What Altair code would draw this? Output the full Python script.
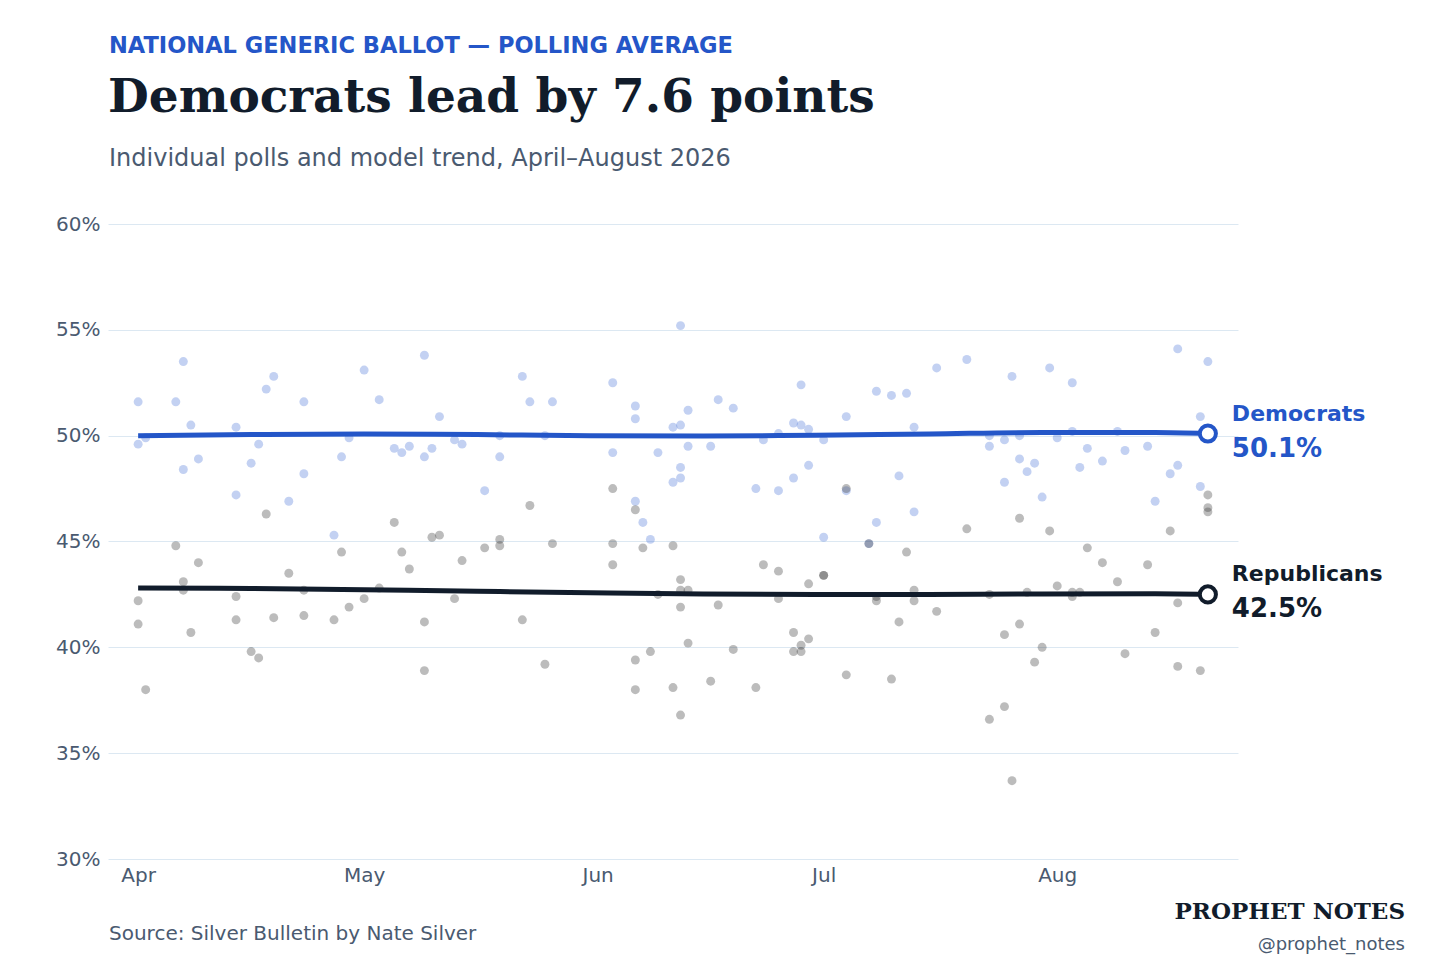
import altair as alt
import pandas as pd

dem_day = [0,0,1,5,6,6,7,8,13,13,15,16,17,18,20,22,22,26,27,28,30,32,34,35,36,38,38,39,40,42,43,46,48,48,51,52,54,55,63,63,66,66,66,67,68,69,71,71,72,72,72,72,73,73,76,77,79,82,83,85,85,87,87,88,88,89,89,91,91,94,94,97,98,98,100,101,102,103,103,106,110,113,113,115,115,116,117,117,118,119,120,121,122,124,124,125,126,128,130,131,134,135,137,138,138,141,141,142]
dem_val = [51.6,49.6,49.9,51.6,53.5,48.4,50.5,48.9,50.4,47.2,48.7,49.6,52.2,52.8,46.9,51.6,48.2,45.3,49.0,49.9,53.1,51.7,49.4,49.2,49.5,53.8,49.0,49.4,50.9,49.8,49.6,47.4,50.0,49.0,52.8,51.6,50.0,51.6,52.5,49.2,51.4,50.8,46.9,45.9,45.1,49.2,50.4,47.8,55.2,50.5,48.5,48.0,51.2,49.5,49.5,51.7,51.3,47.5,49.8,50.1,47.4,50.6,48.0,52.4,50.5,50.3,48.6,49.8,45.2,50.9,47.4,44.9,52.1,45.9,51.9,48.1,52.0,50.4,46.4,53.2,53.6,50.0,49.5,49.8,47.8,52.8,50.0,48.9,48.3,48.7,47.1,53.2,49.9,52.5,50.2,48.5,49.4,48.8,50.2,49.3,49.5,46.9,48.2,54.1,48.6,50.9,47.6,53.5]
rep_day = [0,0,1,5,6,6,7,8,13,13,15,16,17,18,20,22,22,26,27,28,30,32,34,35,36,38,38,39,40,42,43,46,48,48,51,52,54,55,63,63,63,66,66,66,67,68,69,71,71,72,72,72,72,73,73,76,77,79,82,83,85,85,87,87,88,88,89,89,91,91,94,94,97,98,98,100,101,102,103,103,106,110,113,113,115,115,116,117,117,118,119,120,121,122,124,124,125,126,128,130,131,134,135,137,138,138,141,142,142,142]
rep_val = [42.2,41.1,38.0,44.8,43.1,42.7,40.7,44.0,42.4,41.3,39.8,39.5,46.3,41.4,43.5,42.7,41.5,41.3,44.5,41.9,42.3,42.8,45.9,44.5,43.7,41.2,38.9,45.2,45.3,42.3,44.1,44.7,45.1,44.8,41.3,46.7,39.2,44.9,47.5,44.9,43.9,46.5,39.4,38.0,44.7,39.8,42.5,44.8,38.1,43.2,42.7,41.9,36.8,42.7,40.2,38.4,42.0,39.9,38.1,43.9,43.6,42.3,40.7,39.8,40.1,39.8,43.0,40.4,43.4,43.4,47.5,38.7,44.9,42.4,42.2,38.5,41.2,44.5,42.7,42.2,41.7,45.6,42.5,36.6,40.6,37.2,33.7,46.1,41.1,42.6,39.3,40.0,45.5,42.9,42.6,42.4,42.6,44.7,44.0,43.1,39.7,43.9,40.7,45.5,42.1,39.1,38.9,47.2,46.6,46.4]
trend_day = [0,15,30,45,60,75,90,105,120,135,142]
dem_trend = [50.0,50.05,50.08,50.05,50.0,49.98,50.02,50.08,50.15,50.15,50.1]
rep_trend = [42.8,42.78,42.72,42.65,42.58,42.52,42.5,42.5,42.52,42.53,42.5]

start = pd.Timestamp("2026-04-01")
def dates(days): return [start + pd.Timedelta(days=d) for d in days]

BLUE = "#2456c8"; DARK = "#111c2b"

x = alt.X("date:T", scale=alt.Scale(domain=["2026-03-28","2026-08-25"]),
          axis=alt.Axis(format="%b", tickCount="month", title=None, grid=False, domain=False, ticks=False,
                        labelFontSize=20, labelColor="#4a5a70", labelPadding=6, labelFont="DejaVu Sans"))
y = alt.Y("v:Q", scale=alt.Scale(domain=[0.30, 0.60]),
          axis=alt.Axis(format=".0%", values=[0.30,0.35,0.40,0.45,0.50,0.55,0.60], title=None, domain=False, ticks=False,
                        gridColor="#dce8f2", labelFontSize=20, labelColor="#4a5a70", labelPadding=8, labelFont="DejaVu Sans"))

layers = []
for name, days, vals, tdays, tvals, lc, pc in [
        ("Democrats", dem_day, dem_val, trend_day, dem_trend, BLUE, "#4a72d8"),
        ("Republicans", rep_day, rep_val, trend_day, rep_trend, DARK, "#333333")]:
    p = pd.DataFrame({"date": dates(days), "v": [v/100 for v in vals]})
    t = pd.DataFrame({"date": dates(tdays), "v": [v/100 for v in tvals]})
    e = t.tail(1).copy(); e["name"] = name; e["lbl"] = e["v"].map(lambda v: f"{v*100:.1f}%")
    layers.append(alt.Chart(p).mark_circle(size=80, opacity=0.33, color=pc).encode(x=x, y=y))
    layers.append(alt.Chart(t).mark_line(strokeWidth=5, interpolate="monotone", color=lc).encode(x=x, y=y))
    layers.append(alt.Chart(e).mark_point(size=260, filled=True, fill="white", stroke=lc, strokeWidth=4, opacity=1).encode(x=x, y=y))
    layers.append(alt.Chart(e).mark_text(align="left", dx=24, dy=-20, fontSize=22, fontWeight="bold", font="DejaVu Sans", color=lc).encode(x=x, y=y, text="name:N"))
    layers.append(alt.Chart(e).mark_text(align="left", dx=24, dy=15, fontSize=26, fontWeight="bold", font="DejaVu Sans", color=lc).encode(x=x, y=y, text="lbl:N"))

def txt(t, xv, yv, size, col, weight="normal", font="DejaVu Sans", align="left"):
    return alt.Chart(pd.DataFrame({"t":[t]})).mark_text(align=align, baseline="alphabetic", fontSize=size, color=col,
        fontWeight=weight, font=font).encode(text="t:N", x=alt.value(xv), y=alt.value(yv))

texts = [
    txt("NATIONAL GENERIC BALLOT — POLLING AVERAGE", 1, -171, 22.5, BLUE, "bold"),
    txt("Democrats lead by 7.6 points", 0, -112, 47, DARK, "bold", "DejaVu Serif"),
    txt("Individual polls and model trend, April–August 2026", 1, -58, 24, "#4a5a70"),
    txt("Source: Silver Bulletin by Nate Silver", 1, 716, 20, "#4a5a70"),
    txt("PROPHET NOTES", 1297, 695, 23, DARK, "bold", "DejaVu Serif", "right"),
    txt("@prophet_notes", 1297, 726, 18, "#4a5a70", "normal", "DejaVu Sans", "right"),
]

chart = alt.layer(*layers, *texts).properties(
    width=1130, height=635, autosize=alt.AutoSizeParams(type="none"),
    padding={"left":100, "top":216, "right":210, "bottom":104}, background="white"
).configure_view(stroke=None)

chart.save("out.html", embed_options={"renderer": "svg", "actions": False})
